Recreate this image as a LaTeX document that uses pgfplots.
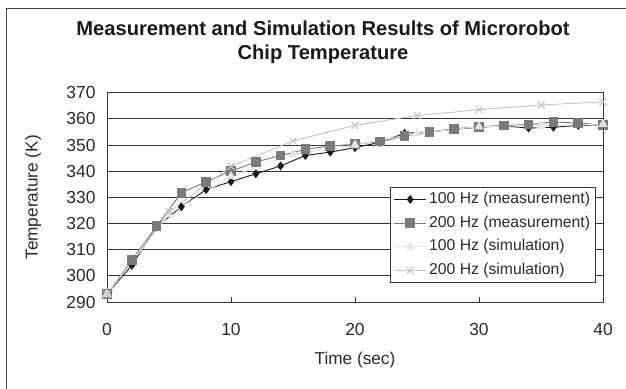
\documentclass[border=0pt]{standalone}
\usepackage{fontspec}
\setmainfont{Liberation Sans}
\usepackage{pgfplots}
\pgfplotsset{compat=1.18}

\definecolor{measA}{HTML}{1A1A1A}
\definecolor{measB}{HTML}{7A7A7A}
\definecolor{simA}{HTML}{E4E4E4}
\definecolor{simB}{HTML}{C4C4C4}
\definecolor{txt}{HTML}{2A2A2A}

\begin{document}
\begin{tikzpicture}
\useasboundingbox (-107bp,-87bp) rectangle (519bp,302bp);
% chart area frame (right and bottom edges fall off the page)
\draw[line width=1bp, black!75] (-100bp,-120bp) rectangle (560bp,293bp);
\begin{axis}[
    scale only axis,
    width=496bp, height=209.3bp,
    xmin=0, xmax=40,
    ymin=290, ymax=370,
    xtick={0,10,20,30,40},
    ytick={290,300,...,370},
    ymajorgrids,
    major grid style={line width=0.9bp, black!80},
    axis line style={line width=0.9bp, black!80},
    xtick pos=bottom, ytick pos=left,
    tick align=inside,
    major tick length=5bp,
    xtick style={line width=0.9bp, black!80},
    ytick style={draw=none},
    /pgf/number format/assume math mode=true,
    tick label style={font=\fontsize{17.5}{20}\selectfont, text=txt},
    xticklabel style={anchor=center, yshift=-27bp},
    yticklabel style={anchor=east, xshift=-8bp},
    xlabel={Time (sec)},
    ylabel={Temperature (K)},
    xlabel style={at={(axis description cs:0.5,-0.2775)}, anchor=center,
        font=\fontsize{17.3}{20}\selectfont, text=txt},
    ylabel style={at={(axis description cs:-0.149,0.5)}, anchor=center,
        font=\fontsize{17.3}{20}\selectfont, text=txt},
    title={Measurement and Simulation Results of Microrobot\\Chip Temperature},
    title style={at={(axis description cs:0.4355,1.212)}, anchor=center,
        align=center, font=\bfseries\fontsize{20.2}{24}\selectfont, text=measA},
    legend cell align=left,
    legend image code/.code={
        \draw[mark repeat=2,mark phase=2,#1]
            plot coordinates {(0bp,0bp) (16bp,0bp) (32bp,0bp)};},
    legend style={at={(axis description cs:0.986,0.091)}, anchor=south east,
        draw=black!80, line width=0.9bp,
        font=\fontsize{15.8}{18}\selectfont, text=txt,
        nodes={inner sep=2.5bp, text height=11.5bp, text depth=3.5bp},
        row sep=3.7bp, inner xsep=3bp, inner ysep=2bp},
]
\addplot[color=measA, line width=0.9bp, mark=diamond*, mark size=3.8bp,
    mark options={solid, fill=measA}] coordinates {
    (0,293) (2,304) (4,318.7) (6,326.4) (8,333) (10,336) (12,339)
    (14,342) (16,346) (18,347.3) (20,349) (22,351) (24,354.5) (26,355)
    (28,356) (30,356.8) (32,357.3) (34,356.5) (36,356.8) (38,357.5) (40,357.8)
};
\addlegendentry{100 Hz (measurement)}
\addplot[color=measB, line width=0.9bp, mark=square*, mark size=4.3bp,
    mark options={solid, fill=measB}] coordinates {
    (0,293) (2,306) (4,319) (6,331.7) (8,336) (10,340) (12,343.5)
    (14,346) (16,348.4) (18,349.6) (20,350.3) (22,351.3) (24,353.4) (26,355)
    (28,356.2) (30,357) (32,357.5) (34,357.8) (36,358.8) (38,358.4) (40,357.6)
};
\addlegendentry{200 Hz (measurement)}
\addplot[color=simA, line width=0.9bp, mark=triangle*, mark size=4.5bp,
    mark options={solid, fill=simA}] coordinates {
    (0,293) (5,323.5) (10,338) (15,346.5) (20,350) (25,354.5) (30,357)
    (35,357.5) (40,358)
};
\addlegendentry{100 Hz (simulation)}
\addplot[color=simB, line width=0.9bp, mark=x, mark size=5bp,
    mark options={solid, line width=1.1bp}] coordinates {
    (0,293) (5,324.5) (10,341.8) (15,351.6) (20,357.5) (25,361.3) (30,363.5)
    (35,365.3) (40,366.5)
};
\addlegendentry{200 Hz (simulation)}
\end{axis}
\end{tikzpicture}
\end{document}
